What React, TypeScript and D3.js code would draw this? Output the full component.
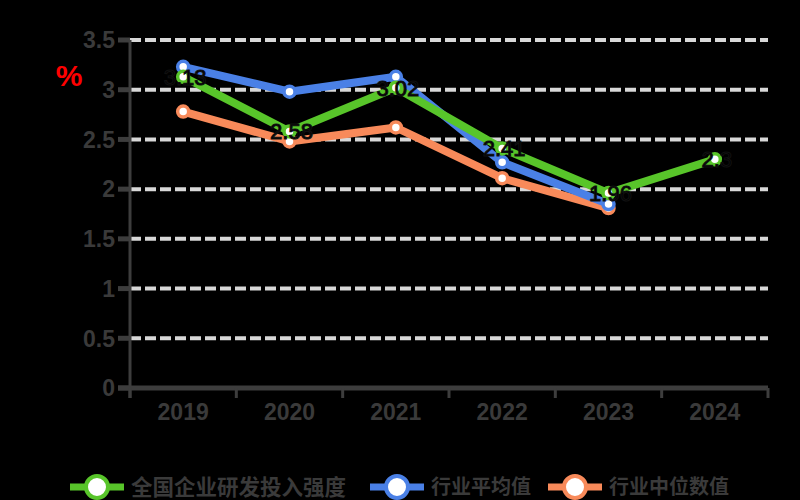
import React from "react";
import * as d3 from "d3";

const years = ["2019", "2020", "2021", "2022", "2023", "2024"];
const greenValues: (number | null)[] = [3.13, 2.58, 3.02, 2.41, 1.96, 2.3];
const greenLabels = ["3.13", "2.58", "3.02", "2.41", "1.96", "2.3"];
const blueValues: (number | null)[] = [3.23, 2.98, 3.13, 2.27, 1.85, null];
const orangeValues: (number | null)[] = [2.78, 2.48, 2.62, 2.11, 1.81, null];
const yTicks = [0, 0.5, 1, 1.5, 2, 2.5, 3, 3.5];
const seriesNames = ["全国企业研发投入强度", "行业平均值", "行业中位数值"];
const colors = ["#58c52a", "#4a80e6", "#f88a5a"];
const unitLabel = "%";

export default function App() {
  const W = 800, H = 500;
  const left = 130, right = 768, top = 40, bottom = 388;
  const x = d3.scaleBand<string>().domain(years).range([left, right]);
  const y = d3.scaleLinear().domain([0, 3.5]).range([bottom, top]);
  const cx = (i: number) => (x(years[i]) as number) + x.bandwidth() / 2;
  const line = d3
    .line<number | null>()
    .defined((d) => d !== null)
    .x((_, i) => cx(i))
    .y((d) => y(d as number));

  const series = [
    { vals: orangeValues, color: colors[2] },
    { vals: blueValues, color: colors[1] },
    { vals: greenValues, color: colors[0] },
  ];
  const axisColor = "#3d3d3d";
  const textColor = "#3a3a3a";
  const boundaries = [...years.map((yr) => x(yr) as number), right];
  const legendItems = [
    { name: seriesNames[0], color: colors[0], sx: 97, fs: 21.5 },
    { name: seriesNames[1], color: colors[1], sx: 397, fs: 20 },
    { name: seriesNames[2], color: colors[2], sx: 575, fs: 20 },
  ];

  return (
    <svg
      width={W}
      height={H}
      style={{ position: "absolute", left: 0, top: 0, display: "block" }}
      fontFamily="'Liberation Sans', Arial, sans-serif"
    >
      <rect x={0} y={0} width={W} height={H} fill="#000" />
      {yTicks.filter((t) => t > 0).map((t) => (
        <line
          key={"g" + t}
          x1={left}
          x2={right}
          y1={y(t)}
          y2={y(t)}
          stroke="#d8d8d8"
          strokeWidth={4}
          strokeDasharray="11,4"
        />
      ))}
      <line x1={left} x2={left} y1={top} y2={bottom + 10} stroke={axisColor} strokeWidth={3} />
      {yTicks.map((t) => (
        <g key={"yt" + t}>
          <line x1={left - 12} x2={left} y1={y(t)} y2={y(t)} stroke={axisColor} strokeWidth={5} />
          <text
            x={115}
            y={y(t)}
            dy="0.36em"
            textAnchor="end"
            fontSize={23}
            fontWeight="bold"
            fill={textColor}
          >
            {String(t)}
          </text>
        </g>
      ))}
      <text x={69} y={75} dy="0.36em" textAnchor="middle" fontSize={30} fontWeight="bold" fill="#ff0000">
        {unitLabel}
      </text>
      <line x1={left - 12} x2={right} y1={bottom} y2={bottom} stroke={axisColor} strokeWidth={5} />
      {boundaries.map((b, i) => (
        <line key={"xt" + i} x1={b} x2={b} y1={bottom} y2={bottom + 10} stroke={axisColor} strokeWidth={3} />
      ))}
      {years.map((yr, i) => (
        <text
          key={"xl" + yr}
          x={cx(i)}
          y={412}
          dy="0.36em"
          textAnchor="middle"
          fontSize={23}
          fontWeight="bold"
          fill={textColor}
        >
          {yr}
        </text>
      ))}
      {series.map((s, si) => (
        <g key={"s" + si}>
          <path d={line(s.vals) || ""} fill="none" stroke={s.color} strokeWidth={8} strokeLinejoin="round" />
          {s.vals.map((v, i) =>
            v === null ? null : (
              <circle key={i} cx={cx(i)} cy={y(v)} r={5.5} fill="#fff" stroke={s.color} strokeWidth={3.5} />
            )
          )}
        </g>
      ))}
      {greenValues.map((v, i) =>
        v === null ? null : (
          <text
            key={"lb" + i}
            x={cx(i) + 2}
            y={y(v)}
            dy="0.36em"
            textAnchor="middle"
            fontSize={22}
            fill="#000"
            stroke="#111"
            strokeWidth={1}
          >
            {greenLabels[i]}
          </text>
        )
      )}
      {legendItems.map((it, i) => (
        <g key={"lg" + i}>
          <line x1={it.sx - 27} x2={it.sx + 27} y1={487} y2={487} stroke={it.color} strokeWidth={7} />
          <circle cx={it.sx} cy={487} r={11} fill="#fff" stroke={it.color} strokeWidth={4} />
          <text
            x={it.sx + 34}
            y={487}
            dy="0.36em"
            fontSize={it.fs}
            fontWeight="bold"
            fill={textColor}
            fontFamily="'Noto Sans CJK SC', sans-serif"
          >
            {it.name}
          </text>
        </g>
      ))}
    </svg>
  );
}
